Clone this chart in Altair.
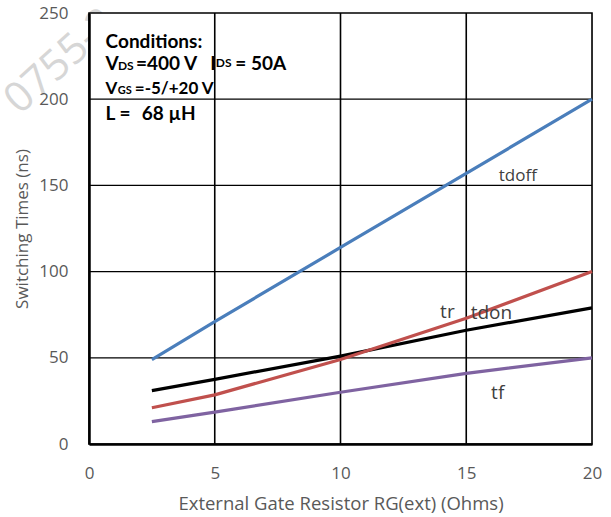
import altair as alt
import pandas as pd

# ---- data ----
rg = [2.5, 5, 10, 15, 20]
tdoff = [49, 71, 114, 157, 200]
tdon = [31, 37.5, 51, 66, 79]
tr = [21, 28.5, 49, 73, 100]
tf = [13, 18.5, 30, 41, 50]

series_names = ["tdoff", "tdon", "tr", "tf"]
series_colors = ["#4a7ebb", "#000000", "#c0504d", "#7f63a1"]

x_ticks = [0, 5, 10, 15, 20]
y_ticks = [0, 50, 100, 150, 200, 250]
x_grid = [5, 10, 15]
y_grid = [50, 100, 150, 200]

# curve labels (data coordinates)
lab_text = ["tdoff", "tr", "tdon", "tf"]
lab_x = [17.05, 14.25, 16.0, 16.25]
lab_y = [155.5, 76.5, 76.0, 29.5]
lab_size = [17, 19, 19, 19]

# conditions box text segments (data coordinates, baseline-left)
cond_text = ["Conditions:", "V", "DS", "=400 V", "I", "DS", "= 50A",
             "V", "GS", "=-5/+20 V", "L =", "68 µH"]
cond_x = [0.66, 0.66, 1.15, 1.87, 4.82, 5.04, 5.82,
          0.66, 1.14, 1.82, 0.66, 2.1]
cond_y = [229.5, 216.9, 216.9, 216.9, 216.9, 218.8, 216.9,
          203.0, 203.0, 203.0, 187.9, 187.9]
cond_size = [19, 19, 12, 19, 19, 12, 19,
             17, 11, 17, 19, 19]

rows = []
for name, vals in zip(series_names, [tdoff, tdon, tr, tf]):
    for xv, yv in zip(rg, vals):
        rows.append({"series": name, "x": xv, "y": yv})
df = pd.DataFrame(rows)

labels_df = pd.DataFrame({"t": lab_text, "x": lab_x, "y": lab_y, "s": lab_size})
cond_df = pd.DataFrame({"t": cond_text, "x": cond_x, "y": cond_y, "s": cond_size})
xg_df = pd.DataFrame({"x": x_grid})
yg_df = pd.DataFrame({"y": y_grid})
box_df = pd.DataFrame({"x": [x_ticks[0]], "x2": [x_ticks[-1]], "y": [y_ticks[0]], "y2": [y_ticks[-1]]})
wm_df = pd.DataFrame({"t": ["0755-2"], "x": [-2.75], "y": [190.5]})

xs = alt.Scale(domain=[0, 20], nice=False)
ys = alt.Scale(domain=[0, 250], nice=False)

FONT = "Open Sans"
axis_common = dict(grid=False, ticks=False, labelColor="#595959", labelFont=FONT,
                   labelFontSize=17, titleColor="#595959", titleFont=FONT,
                   titleFontWeight="normal", domainColor="#000000", domainWidth=2.5,
                   labelFlush=False, zindex=1)

watermark = alt.Chart(wm_df).mark_text(
    align="left", baseline="alphabetic", angle=318, fontSize=42, font=FONT,
    color="#d6d6d6"
).encode(x=alt.X("x:Q", scale=xs), y=alt.Y("y:Q", scale=ys), text="t:N")

box = alt.Chart(box_df).mark_rect(fill="white", stroke="black", strokeWidth=1.6).encode(
    x=alt.X("x:Q", scale=xs,
            axis=alt.Axis(values=x_ticks, title="External Gate Resistor RG(ext) (Ohms)",
                          labelPadding=21, titlePadding=13, titleFontSize=18.5, **axis_common)),
    x2="x2:Q",
    y=alt.Y("y:Q", scale=ys,
            axis=alt.Axis(values=y_ticks, title="Switching Times (ns)",
                          labelPadding=21, titlePadding=7, titleFontSize=17, **axis_common)),
    y2="y2:Q",
)

vgrid = alt.Chart(xg_df).mark_rule(color="black", strokeWidth=1.6).encode(
    x=alt.X("x:Q", scale=xs))
hgrid = alt.Chart(yg_df).mark_rule(color="black", strokeWidth=1.2).encode(
    y=alt.Y("y:Q", scale=ys))

lines = alt.Chart(df).mark_line(strokeWidth=3.2).encode(
    x=alt.X("x:Q", scale=xs),
    y=alt.Y("y:Q", scale=ys),
    color=alt.Color("series:N", scale=alt.Scale(domain=series_names, range=series_colors),
                    legend=None),
    detail="series:N",
)

curve_labels = alt.Chart(labels_df).mark_text(
    align="center", baseline="middle", font=FONT, color="#404040"
).encode(
    x=alt.X("x:Q", scale=xs), y=alt.Y("y:Q", scale=ys), text="t:N",
    size=alt.Size("s:Q", scale=None, legend=None),
)

cond = alt.Chart(cond_df).mark_text(
    align="left", baseline="alphabetic", font="Lato", fontWeight="bold", color="#000000"
).encode(
    x=alt.X("x:Q", scale=xs), y=alt.Y("y:Q", scale=ys), text="t:N",
    size=alt.Size("s:Q", scale=None, legend=None),
)

chart = alt.layer(watermark, box, vgrid, hgrid, lines, curve_labels, cond).properties(
    width=503, height=431,
    autosize=alt.AutoSizeParams(type="none"),
    padding={"left": 89, "top": 13, "right": 19, "bottom": 73},
).configure_view(stroke=None).configure(background="white")

chart.save("out.html", embed_options={"renderer": "svg", "actions": False})
